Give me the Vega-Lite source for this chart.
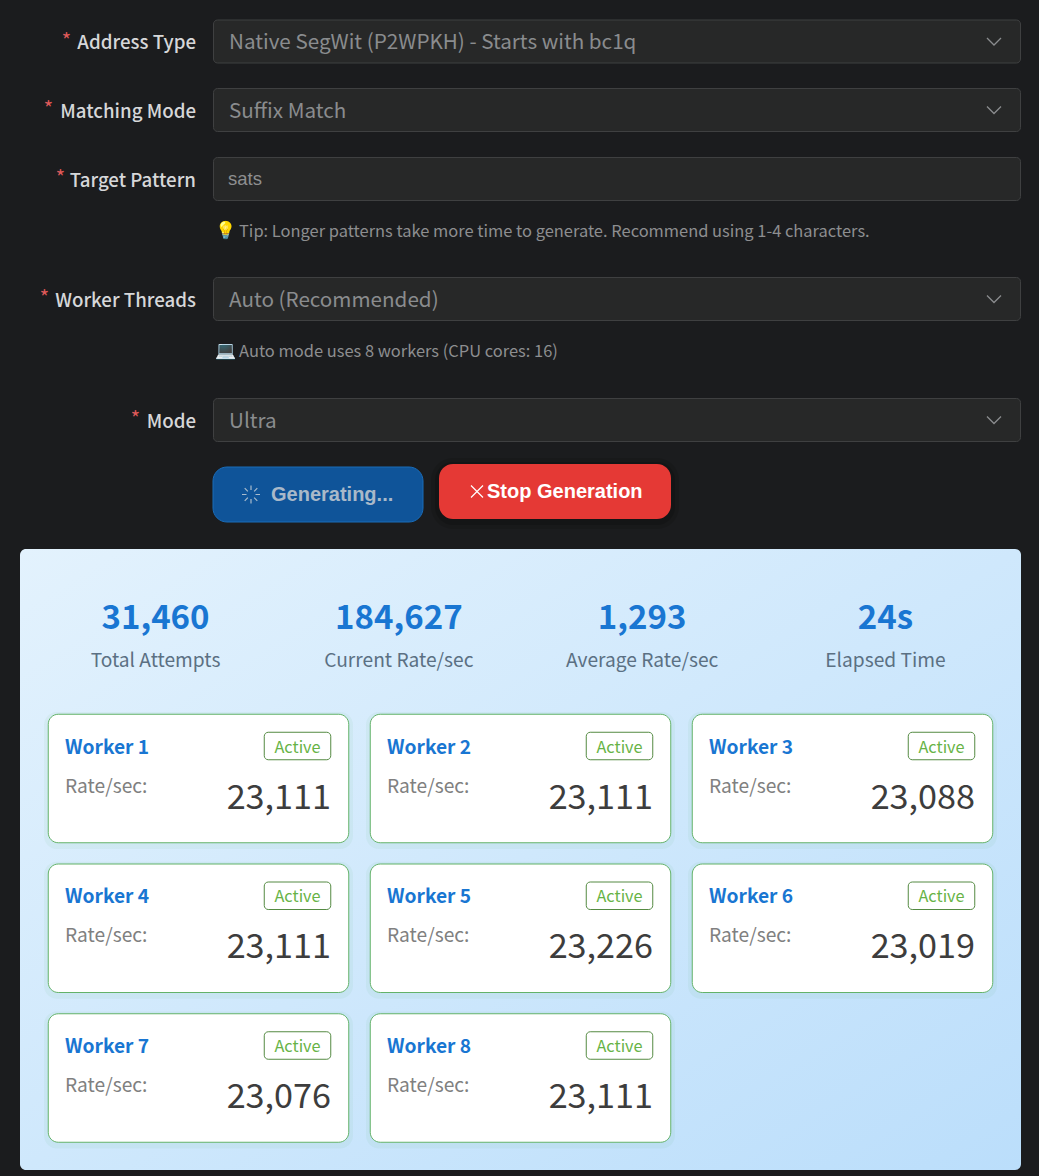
{
  "$schema": "https://vega.github.io/schema/vega-lite/v6.json",
  "width": 1039,
  "height": 1176,
  "padding": 0,
  "autosize": {"type": "fit", "contains": "padding"},
  "background": "#1b1c1e",
  "config": {
    "view": {"stroke": null},
    "axis": {"disable": true},
    "text": {"font": "Noto Sans CJK SC", "baseline": "middle"}
  },
  "datasets": {
    "form": [
      {"row": 1, "label": "Address Type", "value": "Native SegWit (P2WPKH) - Starts with bc1q", "control": "select", "star_x": 71},
      {"row": 2, "label": "Matching Mode", "value": "Suffix Match", "control": "select", "star_x": 53},
      {"row": 3, "label": "Target Pattern", "value": "sats", "control": "input", "star_x": 65, "icon": "💡", "hint": "Tip: Longer patterns take more time to generate. Recommend using 1-4 characters."},
      {"row": 4, "label": "Worker Threads", "value": "Auto (Recommended)", "control": "select", "star_x": 49, "icon": "💻", "hint": "Auto mode uses 8 workers (CPU cores: 16)"},
      {"row": 5, "label": "Mode", "value": "Ultra", "control": "select", "star_x": 140}
    ],
    "buttons": [
      {"slot": 1, "button": "Generating..."},
      {"slot": 2, "button": "Stop Generation"}
    ],
    "panel": [
      {"left": 20, "right": 1021, "top": 549, "bottom": 1170}
    ],
    "stats": [
      {"col": 1, "stat": "Total Attempts", "value": "31,460"},
      {"col": 2, "stat": "Current Rate/sec", "value": "184,627"},
      {"col": 3, "stat": "Average Rate/sec", "value": "1,293"},
      {"col": 4, "stat": "Elapsed Time", "value": "24s"}
    ],
    "workers": [
      {"worker": "Worker 1", "rate": 23111, "status": "Active", "col": 1, "row": 1},
      {"worker": "Worker 2", "rate": 23111, "status": "Active", "col": 2, "row": 1},
      {"worker": "Worker 3", "rate": 23088, "status": "Active", "col": 3, "row": 1},
      {"worker": "Worker 4", "rate": 23111, "status": "Active", "col": 1, "row": 2},
      {"worker": "Worker 5", "rate": 23226, "status": "Active", "col": 2, "row": 2},
      {"worker": "Worker 6", "rate": 23019, "status": "Active", "col": 3, "row": 2},
      {"worker": "Worker 7", "rate": 23076, "status": "Active", "col": 1, "row": 3},
      {"worker": "Worker 8", "rate": 23111, "status": "Active", "col": 2, "row": 3}
    ]
  },
  "resolve": {"scale": {"x": "independent", "y": "independent"}},
  "layer": [
    {
      "data": {"name": "form"},
      "encoding": {
        "y": {"field": "row", "type": "quantitative", "scale": {"domain": [1, 2, 3, 4, 5], "range": [41.5, 110, 179, 299, 420]}},
        "x": {"datum": 196, "type": "quantitative", "scale": {"domain": [0, 1039], "range": [0, 1039]}}
      },
      "layer": [
        {
          "mark": {"type": "rect", "width": 807, "height": 43, "cornerRadius": 4, "fill": "#272828", "stroke": "#3f4041", "strokeWidth": 1, "xOffset": 421},
          "encoding": {}
        },
        {
          "mark": {"type": "text", "align": "right", "dy": 1.5, "fontSize": 18.7, "fontWeight": 500, "color": "#d6d7d9"},
          "encoding": {"text": {"field": "label"}}
        },
        {
          "transform": [{"filter": "datum.control === 'select'"}],
          "mark": {"type": "text", "align": "left", "dx": 33, "dy": 1.5, "fontSize": 20.65, "color": "#8a8c8e"},
          "encoding": {"text": {"field": "value"}}
        },
        {
          "transform": [{"filter": "datum.control === 'input'"}],
          "mark": {"type": "text", "align": "left", "dx": 32, "dy": 0, "font": "Liberation Sans", "fontSize": 18.5, "color": "#8e8f90"},
          "encoding": {"text": {"field": "value"}}
        },
        {
          "transform": [{"filter": "datum.control === 'select'"}],
          "mark": {"type": "point", "shape": "M-1,-0.5L0,0.5L1,-0.5", "size": 196, "filled": false, "stroke": "#8a8c8e", "strokeWidth": 1.3, "opacity": 1, "xOffset": 798},
          "encoding": {}
        },
        {
          "transform": [{"filter": "isValid(datum.hint)"}],
          "mark": {"type": "text", "align": "left", "dx": 43, "dy": 53, "fontSize": 16.47, "color": "#8d8e90"},
          "encoding": {"text": {"field": "hint"}}
        },
        {
          "transform": [{"filter": "isValid(datum.icon)"}],
          "mark": {"type": "text", "align": "left", "dx": 19, "dy": 52, "fontSize": 17, "color": "#e8b93a"},
          "encoding": {"text": {"field": "icon"}}
        }
      ]
    },
    {
      "data": {"name": "form"},
      "mark": {"type": "text", "align": "right", "fontSize": 20, "color": "#e05a5a", "dy": 0},
      "encoding": {
        "x": {"field": "star_x", "type": "quantitative", "scale": {"domain": [0, 1039], "range": [0, 1039]}},
        "y": {"field": "row", "type": "quantitative", "scale": {"domain": [1, 2, 3, 4, 5], "range": [41.5, 110, 179, 299, 420]}},
        "text": {"value": "*"}
      }
    },
    {
      "data": {"name": "buttons"},
      "encoding": {
        "x": {"field": "slot", "type": "quantitative", "scale": {"domain": [1, 2], "range": [318, 555]}},
        "y": {"field": "slot", "type": "quantitative", "scale": {"domain": [1, 2], "range": [494.5, 491.5]}}
      },
      "layer": [
        {
          "transform": [{"filter": "datum.slot === 2"}],
          "mark": {"type": "rect", "width": 248, "height": 71, "cornerRadius": 22, "fill": "#000000", "opacity": 0.1, "yOffset": 2}
        },
        {
          "transform": [{"filter": "datum.slot === 2"}],
          "mark": {"type": "rect", "width": 240, "height": 63, "cornerRadius": 18, "fill": "#000000", "opacity": 0.15, "yOffset": 2}
        },
        {
          "transform": [{"filter": "datum.slot === 1"}],
          "mark": {"type": "rect", "width": 210, "height": 55, "cornerRadius": 14, "fill": "#0f5499", "stroke": "#1a6cb8", "strokeWidth": 1}
        },
        {
          "transform": [{"filter": "datum.slot === 2"}],
          "mark": {"type": "rect", "width": 232, "height": 55, "cornerRadius": 14, "fill": "#e53935"}
        },
        {
          "transform": [{"filter": "datum.slot === 1"}],
          "mark": {"type": "point", "shape": "M0,-1L0,-0.5M0,1L0,0.5M-1,0L-0.5,0M1,0L0.5,0M-0.7,-0.7L-0.35,-0.35M0.7,0.7L0.35,0.35M-0.7,0.7L-0.35,0.35M0.7,-0.7L0.35,-0.35", "size": 324, "filled": false, "stroke": "#a9bccd", "strokeWidth": 1.2, "opacity": 1, "xOffset": -67}
        },
        {
          "transform": [{"filter": "datum.slot === 2"}],
          "mark": {"type": "point", "shape": "M-1,-1L1,1M-1,1L1,-1", "size": 144, "filled": false, "stroke": "#ffffff", "strokeWidth": 1.2, "opacity": 1, "xOffset": -78}
        },
        {
          "transform": [{"filter": "datum.slot === 1"}],
          "mark": {"type": "text", "align": "left", "dx": -47, "font": "Liberation Sans", "fontWeight": "bold", "fontSize": 20, "color": "#a9b9c9"},
          "encoding": {"text": {"field": "button"}}
        },
        {
          "transform": [{"filter": "datum.slot === 2"}],
          "mark": {"type": "text", "align": "left", "dx": -68, "font": "Liberation Sans", "fontWeight": "bold", "fontSize": 20, "color": "#ffffff"},
          "encoding": {"text": {"field": "button"}}
        }
      ]
    },
    {
      "data": {"name": "panel"},
      "mark": {
        "type": "rect",
        "cornerRadius": 6,
        "fill": {"gradient": "linear", "x1": 0, "y1": 0, "x2": 1, "y2": 1, "stops": [{"offset": 0, "color": "#e3f2fd"}, {"offset": 1, "color": "#bbdefb"}]}
      },
      "encoding": {
        "x": {"field": "left", "type": "quantitative", "scale": {"domain": [0, 1039], "range": [0, 1039]}},
        "x2": {"field": "right"},
        "y": {"field": "top", "type": "quantitative", "scale": {"domain": [0, 1176], "range": [0, 1176]}},
        "y2": {"field": "bottom"}
      }
    },
    {
      "data": {"name": "stats"},
      "encoding": {
        "x": {"field": "col", "type": "quantitative", "scale": {"domain": [1, 4], "range": [155.5, 885.5]}}
      },
      "layer": [
        {
          "mark": {"type": "text", "align": "center", "fontSize": 33, "fontWeight": "bold", "color": "#1976d2"},
          "encoding": {
            "y": {"datum": 0, "type": "quantitative", "scale": {"domain": [0, 1], "range": [618.5, 660.5]}},
            "text": {"field": "value"}
          }
        },
        {
          "mark": {"type": "text", "align": "center", "fontSize": 19.2, "color": "#5b7083"},
          "encoding": {
            "y": {"datum": 1, "type": "quantitative", "scale": {"domain": [0, 1], "range": [618.5, 660.5]}},
            "text": {"field": "stat"}
          }
        }
      ]
    },
    {
      "data": {"name": "workers"},
      "encoding": {
        "x": {"field": "col", "type": "quantitative", "scale": {"domain": [1, 3], "range": [198.5, 842.5]}},
        "y": {"field": "row", "type": "quantitative", "scale": {"domain": [1, 3], "range": [778.5, 1078]}}
      },
      "layer": [
        {
          "mark": {"type": "rect", "width": 309, "height": 137, "cornerRadius": 13, "fill": "#4caf50", "opacity": 0.06, "yOffset": 2}
        },
        {
          "mark": {"type": "rect", "width": 300.5, "height": 128.5, "cornerRadius": 10, "fill": "#ffffff", "stroke": "#63b268", "strokeWidth": 1}
        },
        {
          "mark": {"type": "rect", "width": 66.5, "height": 27.5, "cornerRadius": 4, "fill": "#ffffff", "stroke": "#548a42", "strokeWidth": 1, "xOffset": 99, "yOffset": -32.5}
        },
        {
          "mark": {"type": "text", "align": "center", "dx": 99, "dy": -31, "fontSize": 16.3, "color": "#67b346"},
          "encoding": {"text": {"field": "status"}}
        },
        {
          "mark": {"type": "text", "align": "left", "dx": -133.5, "dy": -31, "fontSize": 19.2, "fontWeight": "bold", "color": "#1976d2"},
          "encoding": {"text": {"field": "worker"}}
        },
        {
          "mark": {"type": "text", "align": "left", "dx": -133.5, "dy": 8, "fontSize": 19.2, "color": "#808080"},
          "encoding": {"text": {"value": "Rate/sec:"}}
        },
        {
          "mark": {"type": "text", "align": "right", "dx": 132.5, "dy": 20, "fontSize": 34.2, "color": "#3d3d3d"},
          "encoding": {"text": {"field": "rate", "type": "quantitative", "format": ","}}
        }
      ]
    }
  ]
}
